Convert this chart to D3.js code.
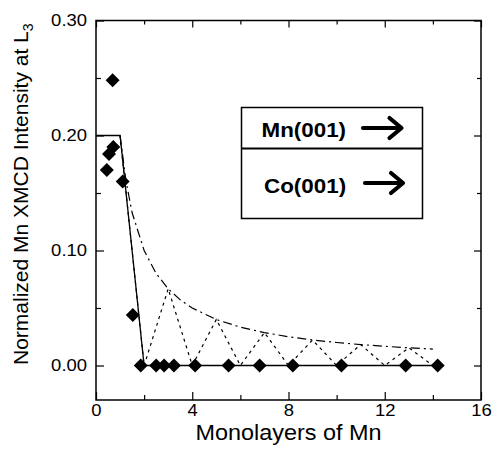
<!DOCTYPE html>
<html>
<head>
<meta charset="utf-8">
<script src="https://cdn.jsdelivr.net/npm/d3@7"></script>
<style>
  html, body { margin: 0; padding: 0; background: #fff; }
  svg { display: block; font-family: "Liberation Sans", Arial, Helvetica, sans-serif; }
</style>
</head>
<body>
<svg id="chart" width="492" height="450"></svg>
<script>
// ---- data ----
const pointX = [0.45, 0.54, 0.72, 0.69, 1.11, 1.53, 1.86, 2.5, 2.83, 3.24, 4.12, 5.51, 6.8, 8.18, 10.2, 12.87, 14.2];
const pointY = [0.170, 0.184, 0.190, 0.248, 0.160, 0.044, 0, 0, 0, 0, 0, 0, 0, 0, 0, 0, 0];

const solidX = [0, 1.0, 2.0, 14.2];
const solidY = [0.2, 0.2, 0, 0];

const envX = [1, 1.25, 1.5, 2, 2.5, 3, 3.5, 4, 5, 6, 7, 8, 9, 10, 11, 12, 13, 14];
const envY = [0.2, 0.16, 0.133, 0.1, 0.08, 0.0667, 0.0571, 0.05, 0.04, 0.0333, 0.0286, 0.025, 0.0222, 0.02, 0.0182, 0.0167, 0.0154, 0.0143];

const zigX = [1, 2, 3, 4, 5, 6, 7, 8, 9, 10, 11, 12, 13, 14];
const zigY = [0.2, 0, 0.0667, 0, 0.04, 0, 0.0286, 0, 0.0222, 0, 0.0182, 0, 0.0154, 0];

const xMajorTicks = [0, 4, 8, 12, 16];
const xMinorTicks = [2, 6, 10, 14];
const yMajorTicks = [0, 0.1, 0.2, 0.3];
const yMinorTicks = [0.05, 0.15, 0.25];

const xTitle = "Monolayers of Mn";
const yTitle = "Normalized Mn XMCD Intensity at L";
const yTitleSub = "3";
const legendLabels = ["Mn(001)", "Co(001)"];

// ---- layout ----
const L = 96, R = 481, T = 20.5, B = 400;
const SX = 1.12; // horizontal stretch of the reference typography

const svg = d3.select("#chart");
const x = d3.scaleLinear().domain([0, 16]).range([L, R]);
const y = d3.scaleLinear().domain([-0.03, 0.30]).range([B, T]);

const tickFont = 16.5;

// bottom axis
const gB = svg.append("g").attr("transform", `translate(0,${B})`);
gB.call(d3.axisBottom(x).tickValues(xMajorTicks).tickSize(-8).tickPadding(4).tickFormat(d3.format("d")));
gB.append("g").call(d3.axisBottom(x).tickValues(xMinorTicks).tickSize(-5).tickFormat(""));
// top axis
const gT = svg.append("g").attr("transform", `translate(0,${T})`);
gT.call(d3.axisTop(x).tickValues(xMajorTicks).tickSize(-7).tickFormat(""));
gT.append("g").call(d3.axisTop(x).tickValues(xMinorTicks).tickSize(-4).tickFormat(""));
// left axis
const gL = svg.append("g").attr("transform", `translate(${L},0)`);
gL.call(d3.axisLeft(y).tickValues(yMajorTicks).tickSize(-8).tickPadding(8).tickFormat(d3.format(".2f")));
gL.append("g").call(d3.axisLeft(y).tickValues(yMinorTicks).tickSize(-5).tickFormat(""));
// right axis
const gR = svg.append("g").attr("transform", `translate(${R},0)`);
gR.call(d3.axisRight(y).tickValues(yMajorTicks).tickSize(-7).tickFormat(""));
gR.append("g").call(d3.axisRight(y).tickValues(yMinorTicks).tickSize(-4).tickFormat(""));

svg.selectAll(".domain").remove();
svg.selectAll(".tick line").attr("stroke", "#000").attr("stroke-width", 1.2);
svg.selectAll(".tick text")
  .attr("fill", "#000")
  .style("font-size", tickFont + "px")
  .style("font-family", '"Liberation Sans", Arial, sans-serif')
  .attr("transform", `scale(${SX},1)`);

// frame
svg.append("rect")
  .attr("x", L).attr("y", T).attr("width", R - L).attr("height", B - T)
  .attr("fill", "none").attr("stroke", "#000").attr("stroke-width", 1.5);

// lines
const lineGen = d3.line().x(d => x(d[0])).y(d => y(d[1]));
const zipXY = (xs, ys) => xs.map((v, i) => [v, ys[i]]);

svg.append("path").datum(zipXY(zigX, zigY))
  .attr("d", lineGen).attr("fill", "none").attr("stroke", "#000")
  .attr("stroke-width", 1.2).attr("stroke-dasharray", "3,4");

svg.append("path").datum(zipXY(envX, envY))
  .attr("d", lineGen).attr("fill", "none").attr("stroke", "#000")
  .attr("stroke-width", 1.2).attr("stroke-dasharray", "9,4,2,4");

svg.append("path").datum(zipXY(solidX, solidY))
  .attr("d", lineGen).attr("fill", "none").attr("stroke", "#000")
  .attr("stroke-width", 1.3);

// diamonds
const diamond = d3.symbol().type(d3.symbolSquare).size(98);
svg.append("g").selectAll("path")
  .data(zipXY(pointX, pointY))
  .join("path")
  .attr("d", diamond)
  .attr("transform", d => `translate(${x(d[0])},${y(d[1])}) rotate(45)`)
  .attr("fill", "#000");

// axis titles
svg.append("g").attr("transform", `translate(${(L + R) / 2},440) scale(1.09,1)`)
  .append("text").attr("text-anchor", "middle").attr("fill", "#000")
  .style("font-size", "21.5px").text(xTitle);

const yt = svg.append("text")
  .attr("transform", "translate(28,365) rotate(-90)")
  .attr("text-anchor", "start").attr("fill", "#000")
  .style("font-size", "21px");
yt.append("tspan").text(yTitle);
yt.append("tspan").attr("dy", 5).style("font-size", "14px").text(yTitleSub);

// annotation box
const box = svg.append("g");
box.append("rect").attr("x", 241.5).attr("y", 107.5).attr("width", 181).attr("height", 111)
  .attr("fill", "#fff").attr("stroke", "#000").attr("stroke-width", 1.5);
box.append("line").attr("x1", 241.5).attr("x2", 422.5).attr("y1", 148.5).attr("y2", 148.5)
  .attr("stroke", "#000").attr("stroke-width", 2);

const rows = [
  { label: legendLabels[0], tx: 261.5, ty: 136.5, ax1: 363, ax2: 401.5, ay: 128 },
  { label: legendLabels[1], tx: 264, ty: 192.5, ax1: 365, ax2: 403, ay: 183 }
];
rows.forEach(r => {
  box.append("g").attr("transform", `translate(${r.tx},${r.ty}) scale(${SX},1)`)
    .append("text").attr("fill", "#000").style("font-size", "20px").style("font-weight", "bold")
    .text(r.label);
  box.append("path")
    .attr("d", `M${r.ax1},${r.ay}H${r.ax2 - 1}M${r.ax2 - 12},${r.ay - 10}L${r.ax2},${r.ay}L${r.ax2 - 12},${r.ay + 10}`)
    .attr("fill", "none").attr("stroke", "#000").attr("stroke-width", 4.2)
    .attr("stroke-linecap", "round").attr("stroke-linejoin", "round");
});
</script>
</body>
</html>
